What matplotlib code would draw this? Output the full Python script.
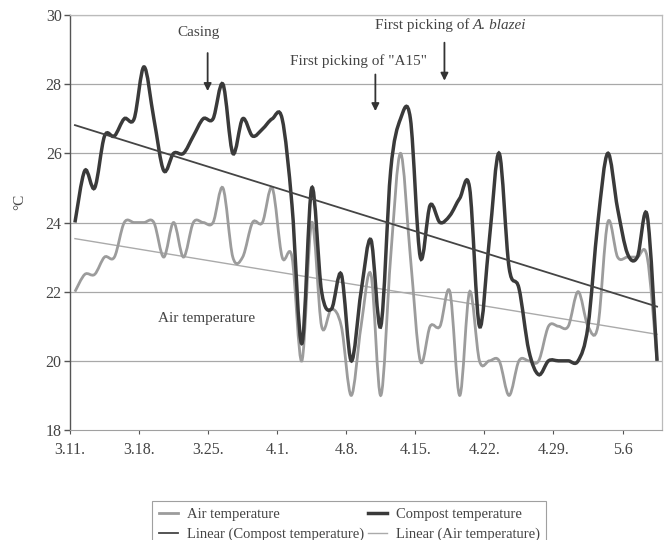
import numpy as np
import matplotlib
matplotlib.use("Agg")
import matplotlib.pyplot as plt
from matplotlib.path import Path
from matplotlib.patches import PathPatch
from matplotlib.lines import Line2D

plt.rcParams['font.family'] = ['Liberation Serif', 'DejaVu Serif']

# ---- data (daily readings, 3.11. .. 5.9.) ----
compost = [24, 25.5, 25, 26.5, 26.5, 27, 27, 28.5, 27, 25.5,
           26, 26, 26.5, 27, 27, 28, 26, 27, 26.5, 26.7,
           27, 27, 24.5, 20.5, 25, 22, 21.5, 22.5, 20, 22,
           23.5, 21, 25.5, 27, 27, 23, 24.5, 24, 24.2, 24.7,
           25, 21, 23.5, 26, 22.7, 22.1, 20.3, 19.6, 20, 20,
           20, 20, 21, 24, 26, 24.4, 23.1, 23, 24.2, 20]
air = [22, 22.5, 22.5, 23, 23, 24, 24, 24, 24, 23,
       24, 23, 24, 24, 24, 25, 23, 23, 24, 24,
       25, 23, 23, 20, 24, 21, 21.5, 21, 19, 21,
       22.5, 19, 23, 26, 23, 20, 21, 21, 22, 19,
       22, 20, 20, 20, 19, 20, 20, 20, 21, 21,
       21, 22, 21, 21, 24, 23, 23, 23, 23, 20]
tick_labels = ['3.11.', '3.18.', '3.25.', '4.1.', '4.8.', '4.15.', '4.22.', '4.29.', '5.6']
yticks = [18, 20, 22, 24, 26, 28, 30]
event_days = [14, 31, 38]

days = np.arange(len(compost)) + 0.5


def smooth_path(x, y):
    """Excel-style smoothed line: cubic Bezier segments through every point."""
    x = np.asarray(x, float)
    y = np.asarray(y, float)
    n = len(x)
    verts = [(x[0], y[0])]
    codes = [Path.MOVETO]
    for i in range(n - 1):
        p0 = np.array([x[max(i - 1, 0)], y[max(i - 1, 0)]])
        p1 = np.array([x[i], y[i]])
        p2 = np.array([x[i + 1], y[i + 1]])
        p3 = np.array([x[min(i + 2, n - 1)], y[min(i + 2, n - 1)]])
        c1 = p1 + (p2 - p0) / 6.0
        c2 = p2 - (p3 - p1) / 6.0
        verts += [tuple(c1), tuple(c2), tuple(p2)]
        codes += [Path.CURVE4] * 3
    return Path(verts, codes)


fig = plt.figure(figsize=(6.68, 5.4), dpi=100)
ax = fig.add_axes([70 / 668, 1 - 430 / 540, 592 / 668, 415 / 540])

c_comp = '#3a3a3a'
c_air = '#9c9c9c'
c_lin_comp = '#454545'
c_lin_air = '#aaaaaa'
c_txt = '#444444'

# grid
for v in yticks[1:]:
    ax.axhline(v, color='#a8a8a8', lw=0.9, zorder=1)

ax.add_patch(PathPatch(smooth_path(days, air), fill=False, edgecolor=c_air, lw=2.0, zorder=3))
ax.add_patch(PathPatch(smooth_path(days, compost), fill=False, edgecolor=c_comp, lw=2.5, zorder=4))

# linear trend lines
kc = np.polyfit(days, compost, 1)
ka = np.polyfit(days, air, 1)
ax.plot([days[0], days[-1]], np.polyval(kc, [days[0], days[-1]]), color=c_lin_comp, lw=1.3, zorder=5)
ax.plot([days[0], days[-1]], np.polyval(ka, [days[0], days[-1]]), color=c_lin_air, lw=1.0, zorder=2)

ax.set_xlim(0, 60)
ax.set_ylim(18, 30)
ax.set_yticks(yticks)
ax.set_xticks(np.arange(0, 57, 7))
ax.set_xticklabels(tick_labels)
ax.tick_params(axis='both', labelsize=11.5, colors='#555555', labelcolor=c_txt)
ax.tick_params(axis='y', length=4, width=1, direction='out', pad=2)
ax.tick_params(axis='x', length=3, width=0.8, direction='out', pad=6)

for s in ['top', 'right']:
    ax.spines[s].set_color('#bbbbbb')
    ax.spines[s].set_linewidth(0.9)
ax.spines['bottom'].set_color('#a0a0a0')
ax.spines['left'].set_color('#555555')
ax.spines['left'].set_linewidth(1.0)

fig.text(20 / 668, 1 - 202 / 540, '°C', rotation=90, fontsize=11, color=c_txt,
         ha='center', va='center')

# annotations
ax.text(13.0, 29.48, 'Casing', fontsize=11, color=c_txt, ha='center', va='center')
ax.text(29.2, 28.66, 'First picking of "A15"', fontsize=11, color=c_txt, ha='center', va='center')
ax.text(40.85, 29.70, 'First picking of ', fontsize=11, color=c_txt, ha='right', va='center')
ax.text(40.85, 29.70, 'A. blazei', fontsize=11, color=c_txt, ha='left', va='center', style='italic')
arrow_span = [(28.9, 27.8), (28.28, 27.22), (29.2, 28.1)]
for d, (a0, a1) in zip(event_days, arrow_span):
    ax.annotate('', xy=(d - 0.05, a1), xytext=(d - 0.05, a0),
                arrowprops=dict(arrowstyle='-|>', color='#333333', lw=1.3,
                                mutation_scale=11, shrinkA=0, shrinkB=0))
ax.text(13.8, 21.22, 'Air temperature', fontsize=11, color=c_txt, ha='center', va='center')

# legend
handles = [Line2D([], [], color=c_air, lw=2.0),
           Line2D([], [], color=c_lin_comp, lw=1.3),
           Line2D([], [], color=c_comp, lw=2.5),
           Line2D([], [], color=c_lin_air, lw=1.0)]
labels = ['Air temperature', 'Linear (Compost temperature)',
          'Compost temperature', 'Linear (Air temperature)']
leg = fig.legend(handles, labels, ncol=2, loc='upper left',
                 bbox_to_anchor=(145 / 668, 1 - 494 / 540), fontsize=10.5,
                 frameon=True, fancybox=False, edgecolor='#888888',
                 handlelength=1.3, handletextpad=0.6, columnspacing=0.3,
                 borderpad=0.45, labelspacing=0.45, labelcolor=c_txt)
leg.get_frame().set_linewidth(0.8)

fig.savefig('out.png', dpi=100)
